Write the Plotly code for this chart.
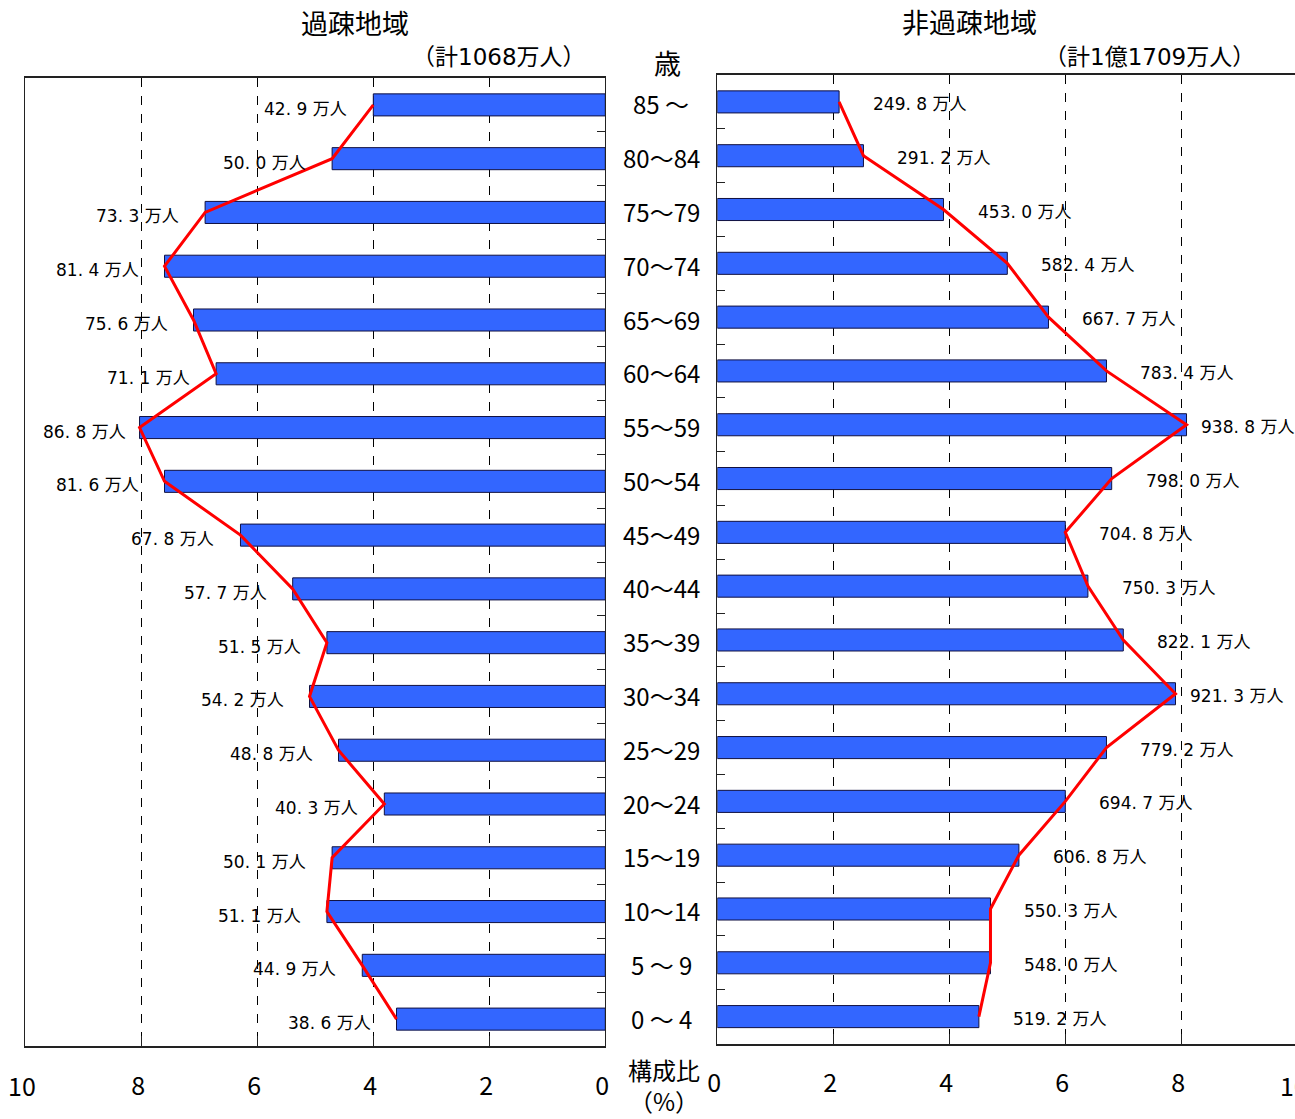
import plotly.graph_objects as go

# ---------------- data (top row first, as in the picture) ----------------
ages = ["85 ～", "80～84", "75～79", "70～74", "65～69", "60～64", "55～59", "50～54",
        "45～49", "40～44", "35～39", "30～34", "25～29", "20～24", "15～19", "10～14",
        "5 ～ 9", "0 ～ 4"]

kaso_pop = [42.9, 50.0, 73.3, 81.4, 75.6, 71.1, 86.8, 81.6, 67.8,
            57.7, 51.5, 54.2, 48.8, 40.3, 50.1, 51.1, 44.9, 38.6]
kaso_pct = [4.00, 4.71, 6.90, 7.60, 7.10, 6.71, 8.03, 7.60, 6.29,
            5.39, 4.80, 5.10, 4.60, 3.81, 4.71, 4.80, 4.19, 3.60]

hikaso_pop = [249.8, 291.2, 453.0, 582.4, 667.7, 783.4, 938.8, 798.0, 704.8,
              750.3, 822.1, 921.3, 779.2, 694.7, 606.8, 550.3, 548.0, 519.2]
hikaso_pct = [2.10, 2.52, 3.90, 5.00, 5.71, 6.71, 8.09, 6.80, 6.00,
              6.39, 7.00, 7.90, 6.71, 6.00, 5.20, 4.71, 4.71, 4.51]

x_ticks = [0, 2, 4, 6, 8]
x_ticktext = ["0", "2", "4", "6", "8"]
x_edge_value = 10
x_edge_text = "10"

title_left = "過疎地域"
title_right = "非過疎地域"
total_left = "（計1068万人）"
total_right = "（計1億1709万人）"
age_header = "歳"
axis_title = "構成比<br>（%）"

# ---------------- styling ----------------
W, H = 1295, 1119
PX_PER_UNIT = 58.0
LEFT_ZERO = 605.3
RIGHT_ZERO = 717.3
JP = "Noto Sans CJK JP"
NARROW = "Liberation Sans Narrow, Noto Sans CJK JP"
LABEL_FONT = "DejaVu Sans, Noto Sans CJK JP"
BAR_COLOR = "#3366FF"
BAR_EDGE = "#101040"
AX_COLOR = "#222222"


def px(xp):
    return xp / W


def py(yp):
    return 1 - yp / H


def fmt(v):
    return f"{v:.1f}".replace(".", ". ") + " 万人"


fig = go.Figure()

fig.add_trace(go.Bar(x=kaso_pct, y=ages, orientation="h", xaxis="x", yaxis="y",
                     width=0.41, marker=dict(color=BAR_COLOR, line=dict(color=BAR_EDGE, width=1)),
                     showlegend=False, hoverinfo="skip"))
fig.add_trace(go.Scatter(x=kaso_pct, y=ages, mode="lines", xaxis="x", yaxis="y",
                         line=dict(color="#FF0000", width=3), showlegend=False, hoverinfo="skip"))

fig.add_trace(go.Bar(x=hikaso_pct, y=ages, orientation="h", xaxis="x2", yaxis="y2",
                     width=0.41, marker=dict(color=BAR_COLOR, line=dict(color=BAR_EDGE, width=1)),
                     showlegend=False, hoverinfo="skip"))
fig.add_trace(go.Scatter(x=hikaso_pct, y=ages, mode="lines", xaxis="x2", yaxis="y2",
                         line=dict(color="#FF0000", width=3), showlegend=False, hoverinfo="skip"))

annotations = []
for a, v, p in zip(ages, kaso_pop, kaso_pct):
    gap = 12 if p >= 7.8 else 24
    annotations.append(dict(x=p, y=a, xref="x", yref="y", text=fmt(v), showarrow=False,
                            xanchor="right", yanchor="middle", xshift=-gap, yshift=-4,
                            font=dict(family=LABEL_FONT, size=17, color="black")))
for a, v, p in zip(ages, hikaso_pop, hikaso_pct):
    gap = 12 if p >= 7.8 else 32
    annotations.append(dict(x=p, y=a, xref="x2", yref="y2", text=fmt(v), showarrow=False,
                            xanchor="left", yanchor="middle", xshift=gap, yshift=-2,
                            font=dict(family=LABEL_FONT, size=17, color="black")))
for a in ages:
    annotations.append(dict(x=px(661), y=a, xref="paper", yref="y", text=a, showarrow=False,
                            xanchor="center", yanchor="middle", yshift=1,
                            font=dict(family=NARROW, size=24, color="black")))

# the "10" ends of both percentage axes (kept off the axes so they do not push margins)
annotations += [
    dict(x=x_edge_value, y=py(1085), xref="x", yref="paper", text=x_edge_text, showarrow=False,
         xanchor="center", yanchor="middle", xshift=-3,
         font=dict(family=NARROW, size=25, color="black")),
    dict(x=px(RIGHT_ZERO + x_edge_value * PX_PER_UNIT), y=py(1085), xref="paper", yref="paper",
         text=x_edge_text, showarrow=False, xanchor="center", yanchor="middle", xshift=-3,
         font=dict(family=NARROW, size=25, color="black")),
]

annotations += [
    dict(x=px(355), y=py(22), xref="paper", yref="paper", text=title_left, showarrow=False,
         xanchor="center", yanchor="middle", font=dict(family=JP, size=27, color="black")),
    dict(x=px(970), y=py(21), xref="paper", yref="paper", text=title_right, showarrow=False,
         xanchor="center", yanchor="middle", font=dict(family=JP, size=27, color="black")),
    dict(x=px(499), y=py(57), xref="paper", yref="paper", text=total_left, showarrow=False,
         xanchor="center", yanchor="middle", font=dict(family=LABEL_FONT, size=23, color="black")),
    dict(x=px(1149), y=py(57), xref="paper", yref="paper", text=total_right, showarrow=False,
         xanchor="center", yanchor="middle", font=dict(family=LABEL_FONT, size=23, color="black")),
    dict(x=px(667), y=py(62), xref="paper", yref="paper", text=age_header, showarrow=False,
         xanchor="center", yanchor="middle", font=dict(family=JP, size=27, color="black")),
    dict(x=px(664), y=0, xref="paper", yref="paper", text=axis_title, showarrow=False,
         xanchor="center", yanchor="bottom", align="center", borderpad=0,
         font=dict(family=JP, size=24, color="black")),
]

common_x = dict(tickvals=x_ticks, ticktext=x_ticktext, showgrid=True, gridcolor="#000000",
                gridwidth=1, griddash="9px,9px", zeroline=False, showline=True,
                linecolor=AX_COLOR, linewidth=1.5, ticks="inside", ticklen=10,
                tickcolor=AX_COLOR, ticklabelstandoff=17,
                fixedrange=True, automargin=False,
                tickfont=dict(family=NARROW, size=25, color="black"))
common_y = dict(type="category", categoryorder="array", categoryarray=ages[::-1],
                range=[-0.5, len(ages) - 0.5], showgrid=False, zeroline=False,
                showline=True, linecolor=AX_COLOR, linewidth=1, ticks="inside",
                ticklen=8, tickcolor=AX_COLOR, tickson="boundaries",
                showticklabels=False, fixedrange=True, automargin=False)

right_max = (W - RIGHT_ZERO) / PX_PER_UNIT
left_max = (LEFT_ZERO - 25.3) / PX_PER_UNIT

fig.update_layout(
    width=W, height=H, margin=dict(l=0, r=0, t=0, b=0, autoexpand=False),
    paper_bgcolor="white", plot_bgcolor="white",
    barmode="overlay",
    xaxis=dict(domain=[px(25.3), px(LEFT_ZERO)], range=[left_max, 0], anchor="y", mirror=True,
               ticklabelshift=3, **common_x),
    yaxis=dict(domain=[py(1046), py(78)], anchor="x", side="right", mirror=True, **common_y),
    xaxis2=dict(domain=[px(RIGHT_ZERO), 1], range=[0, right_max], anchor="y2", mirror=True,
                ticklabelshift=-3, **common_x),
    yaxis2=dict(domain=[py(1043.5), py(75)], anchor="x2", side="left", mirror=False, **common_y),
    annotations=annotations,
    font=dict(family=JP, color="black"),
)

fig.write_html("out.html", config={"displayModeBar": False},
               post_script="document.body.style.margin='0px';")
